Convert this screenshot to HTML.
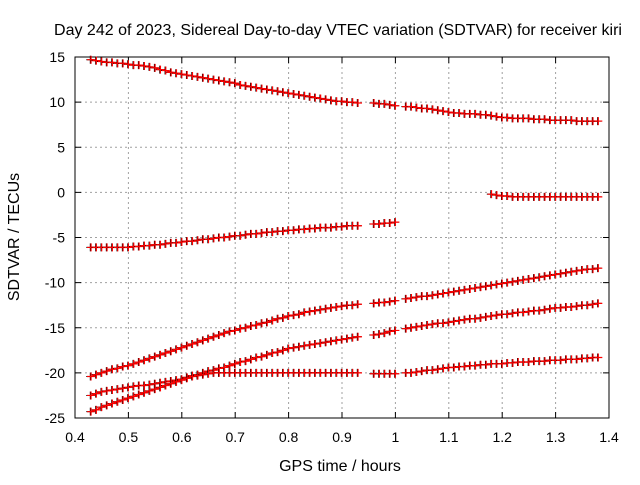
<!DOCTYPE html>
<html><head><meta charset="utf-8"><style>
body{margin:0;background:#fff;font-family:"Liberation Sans",sans-serif}
svg text{font-family:"Liberation Sans",sans-serif;font-size:14px;fill:#000}
svg text.big{font-size:16px}
</style></head><body>
<svg id="chart" width="640" height="480" xmlns="http://www.w3.org/2000/svg">
<rect width="640" height="480" fill="#fff"/>
<text class="big" x="338" y="35" text-anchor="middle">Day 242 of 2023, Sidereal Day-to-day VTEC variation (SDTVAR) for receiver kiri</text>
<text class="big" x="340" y="471" text-anchor="middle">GPS time / hours</text>
<text class="big" transform="translate(19,237) rotate(-90)" text-anchor="middle">SDTVAR / TECUs</text>
<g id="grid"></g><g id="axes"></g><g id="series"></g>
</svg>
<script>
const xTicks=[0.4,0.5,0.6,0.7,0.8,0.9,1,1.1,1.2,1.3,1.4];
const yTicks=[15,10,5,0,-5,-10,-15,-20,-25];
const t0=0.43, dt=0.01;
const N=(n)=>Array(n).fill(null);
const seriesA=[14.7,14.6,14.5,14.4,14.4,14.3,14.3,14.2,14.1,14.1,14.0,13.9,13.8,13.6,13.5,13.3,13.2,13.1,13.0,12.9,12.8,12.7,12.6,12.5,12.4,12.3,12.2,12.1,11.9,11.8,11.7,11.6,11.5,11.4,11.3,11.2,11.1,11.0,10.9,10.8,10.7,10.6,10.5,10.4,10.3,10.2,10.1,10.1,10.0,10.0,9.9,null,null,9.9,9.8,9.8,9.7,9.6,null,9.5,9.5,9.4,9.3,9.3,9.2,9.1,9.0,8.9,8.8,8.8,8.7,8.7,8.7,8.6,8.6,8.5,8.4,8.3,8.3,8.2,8.2,8.2,8.2,8.1,8.1,8.1,8.0,8.0,8.0,8.0,8.0,7.9,7.9,7.9,7.9,7.9];
const seriesB=N(75).concat([-0.2,-0.3,-0.4,-0.4,-0.5,-0.5,-0.5,-0.5,-0.5,-0.5,-0.5,-0.5,-0.5,-0.5,-0.5,-0.5,-0.5,-0.5,-0.5,-0.5,-0.5]);
const seriesC=[-6.1,-6.1,-6.1,-6.1,-6.1,-6.1,-6.1,-6.1,-6.0,-6.0,-5.9,-5.9,-5.8,-5.8,-5.7,-5.6,-5.6,-5.5,-5.4,-5.4,-5.3,-5.2,-5.2,-5.1,-5.0,-5.0,-4.9,-4.8,-4.8,-4.7,-4.6,-4.6,-4.5,-4.4,-4.4,-4.3,-4.3,-4.2,-4.2,-4.1,-4.1,-4.0,-4.0,-3.9,-3.9,-3.9,-3.8,-3.8,-3.7,-3.7,-3.7,null,null,-3.5,-3.5,-3.4,-3.4,-3.3].concat(N(38));
const seriesD=[-20.4,-20.2,-20.0,-19.8,-19.6,-19.5,-19.3,-19.2,-19.0,-18.8,-18.6,-18.4,-18.2,-18.0,-17.8,-17.6,-17.4,-17.2,-17.0,-16.8,-16.6,-16.4,-16.2,-16.0,-15.8,-15.6,-15.4,-15.3,-15.1,-15.0,-14.8,-14.7,-14.5,-14.4,-14.2,-14.0,-13.9,-13.7,-13.6,-13.5,-13.3,-13.2,-13.1,-13.0,-12.9,-12.8,-12.7,-12.6,-12.5,-12.5,-12.4,null,null,-12.3,-12.2,-12.2,-12.1,-12.0,null,-11.8,-11.7,-11.6,-11.5,-11.5,-11.4,-11.3,-11.2,-11.1,-11.0,-10.9,-10.8,-10.7,-10.6,-10.5,-10.4,-10.3,-10.2,-10.1,-10.0,-9.9,-9.8,-9.7,-9.6,-9.5,-9.4,-9.3,-9.2,-9.1,-9.0,-8.9,-8.8,-8.7,-8.6,-8.5,-8.5,-8.4];
const seriesE=[-22.5,-22.3,-22.1,-22.0,-21.9,-21.8,-21.7,-21.6,-21.5,-21.4,-21.4,-21.3,-21.2,-21.1,-21.0,-20.9,-20.8,-20.7,-20.5,-20.3,-20.2,-20.0,-19.8,-19.7,-19.5,-19.4,-19.2,-19.0,-18.8,-18.7,-18.5,-18.3,-18.2,-18.0,-17.8,-17.7,-17.5,-17.3,-17.2,-17.1,-17.0,-16.9,-16.8,-16.7,-16.6,-16.5,-16.4,-16.3,-16.2,-16.1,-16.0,null,null,-15.8,-15.7,-15.6,-15.4,-15.3,null,-15.1,-15.0,-14.9,-14.8,-14.7,-14.6,-14.5,-14.5,-14.4,-14.3,-14.2,-14.1,-14.0,-14.0,-13.9,-13.8,-13.7,-13.6,-13.5,-13.5,-13.4,-13.3,-13.3,-13.2,-13.1,-13.1,-13.0,-12.9,-12.8,-12.8,-12.7,-12.7,-12.6,-12.5,-12.5,-12.4,-12.3];
const seriesF=[-24.3,-24.1,-23.8,-23.6,-23.4,-23.2,-23.0,-22.8,-22.6,-22.4,-22.2,-22.0,-21.8,-21.6,-21.4,-21.2,-21.0,-20.8,-20.6,-20.4,-20.3,-20.2,-20.1,-20.0,-20.0,-20.0,-20.0,-20.0,-20.0,-20.0,-20.0,-20.0,-20.0,-20.0,-20.0,-20.0,-20.0,-20.0,-20.0,-20.0,-20.0,-20.0,-20.0,-20.0,-20.0,-20.0,-20.0,-20.0,-20.0,-20.0,-20.0,null,null,-20.1,-20.1,-20.1,-20.1,-20.1,null,-20.0,-20.0,-19.9,-19.8,-19.7,-19.7,-19.6,-19.5,-19.4,-19.4,-19.3,-19.3,-19.2,-19.2,-19.1,-19.1,-19.0,-19.0,-19.0,-18.9,-18.9,-18.8,-18.8,-18.8,-18.7,-18.7,-18.7,-18.6,-18.6,-18.6,-18.5,-18.5,-18.5,-18.4,-18.4,-18.3,-18.3];
const allSeries=[seriesA,seriesB,seriesC,seriesD,seriesE,seriesF];
const X0=75,X1=609,Y0=57,Y1=418;
const xs=v=>X0+(v-0.4)/(1.4-0.4)*(X1-X0);
const ys=v=>Y0+(15-v)/(15-(-25))*(Y1-Y0);
const NS="http://www.w3.org/2000/svg";
function mk(tag,attrs,parent){const e=document.createElementNS(NS,tag);for(const k in attrs)e.setAttribute(k,attrs[k]);parent.appendChild(e);return e;}
const grid=document.getElementById('grid'),axes=document.getElementById('axes'),ser=document.getElementById('series');
xTicks.forEach(v=>{const x=xs(v);
 if(v>0.4&&v<1.4){const g=mk('line',{x1:x,x2:x,y1:Y0,y2:Y1,stroke:'#a0a0a0','stroke-dasharray':'2,3'},grid);}
 mk('line',{x1:x,x2:x,y1:Y1,y2:Y1-6,stroke:'#000'},axes);mk('line',{x1:x,x2:x,y1:Y0,y2:Y0+6,stroke:'#000'},axes);
 const t=mk('text',{x:x,y:Y1+24,'text-anchor':'middle'},axes);t.textContent=String(v);
 
 });
yTicks.forEach(v=>{const y=ys(v);
 if(v<15&&v>-25){const g=mk('line',{x1:X0,x2:X1,y1:y,y2:y,stroke:'#a0a0a0','stroke-dasharray':'2,3'},grid);}
 mk('line',{x1:X0,x2:X0+6,y1:y,y2:y,stroke:'#000'},axes);mk('line',{x1:X1,x2:X1-6,y1:y,y2:y,stroke:'#000'},axes);
 const t=mk('text',{x:X0-10,y:y+5,'text-anchor':'end'},axes);t.textContent=String(v);
 
 });
const frame=mk('rect',{x:X0,y:Y0,width:X1-X0,height:Y1-Y0,fill:'none',stroke:'#000'},axes);


allSeries.forEach((arr,si)=>{
 const g=mk('g',{},ser);
 
 
 let d='',pen=false;
 arr.forEach((v,i)=>{if(v===null){pen=false;return;}const x=xs(t0+i*dt),y=ys(v);d+=(pen?'L':'M')+x.toFixed(1)+' '+y.toFixed(1);pen=true;});
 mk('path',{d:d,fill:'none',stroke:'#f00','stroke-width':1.5},g);
 arr.forEach((v,i)=>{if(v===null)return;const x=xs(t0+i*dt),y=ys(v);
  mk('path',{d:`M${x-4} ${y}h8M${x} ${y-4}v8`,stroke:'#000','stroke-width':1,transform:'translate(-0.7,0)'},g);
  const q=mk('path',{d:`M${x-4} ${y}h8M${x} ${y-4}v8`,stroke:'#f00','stroke-width':1.2},g);
  
  });
});
</script>
</body></html>
